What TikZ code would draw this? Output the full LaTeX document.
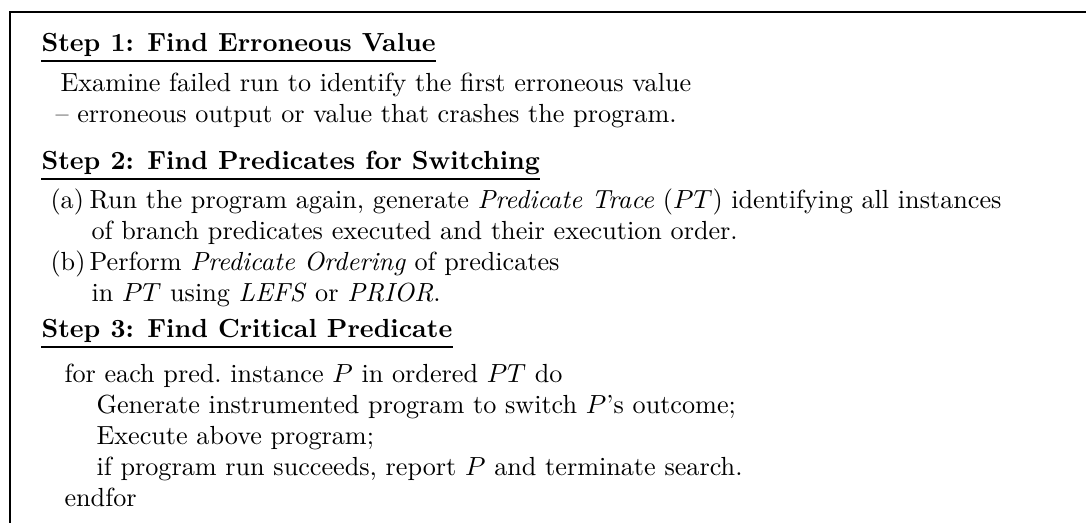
\documentclass[tikz,border=0pt]{standalone}
\usepackage{amsmath}
\usepackage{tikz}

\begin{document}
\begin{tikzpicture}[x=0.382pt, y=-0.382pt]
        % Styles
        \tikzstyle{heading} = [anchor=base west, inner sep=0pt, font=\bfseries]
        \tikzstyle{txt} = [anchor=base west, inner sep=0pt]
        \tikzstyle{uline} = [draw, line width=1pt]
        \tikzstyle{frame} = [draw, line width=0.6pt]

        \useasboundingbox (0,0) rectangle (1086,523);

        % Step 1
        \node [heading] (step1) at (41,52) {Step 1: Find Erroneous Value};
        \node [txt] (s1a) at (60,92) {Examine failed run to identify the first erroneous value};
        \node [txt] (s1b) at (55,123) {-- erroneous output or value that crashes the program.};

        % Step 2
        \node [heading] (step2) at (41,170) {Step 2: Find Predicates for Switching};
        \node [txt] (la) at (50,209) {(a)};
        \node [txt] (s2a) at (89,209) {Run the program again, generate \textit{Predicate Trace} ($PT$) identifying all instances};
        \node [txt] (s2b) at (91,240) {of branch predicates executed and their execution order.};
        \node [txt] (lb) at (50,271) {(b)};
        \node [txt] (s2c) at (89,271) {Perform \textit{Predicate Ordering} of predicates};
        \node [txt] (s2d) at (91,302) {in $PT$ using \textit{LEFS} or \textit{PRIOR}.};

        % Step 3
        \node [heading] (step3) at (41,338) {Step 3: Find Critical Predicate};
        \node [txt] (s3a) at (64,383) {for each pred.\ instance $P$ in ordered $PT$ do};
        \node [txt] (s3b) at (96,414) {Generate instrumented program to switch $P$'s outcome;};
        \node [txt] (s3c) at (96,445) {Execute above program;};
        \node [txt] (s3d) at (96,476) {if program run succeeds, report $P$ and terminate search.};
        \node [txt] (s3e) at (64,507) {endfor};

        % Underlines
        \path [uline] ([yshift=-3.4pt]step1.base west) -- ([yshift=-3.4pt]step1.base east);
        \path [uline] ([yshift=-3.4pt]step2.base west) -- ([yshift=-3.4pt]step2.base east);
        \path [uline] ([yshift=-3.4pt]step3.base west) -- ([yshift=-3.4pt]step3.base east);

        % Frame (cut off at right and bottom)
        \path [frame] (10,540) |- (1100,12);
\end{tikzpicture}
\end{document}
